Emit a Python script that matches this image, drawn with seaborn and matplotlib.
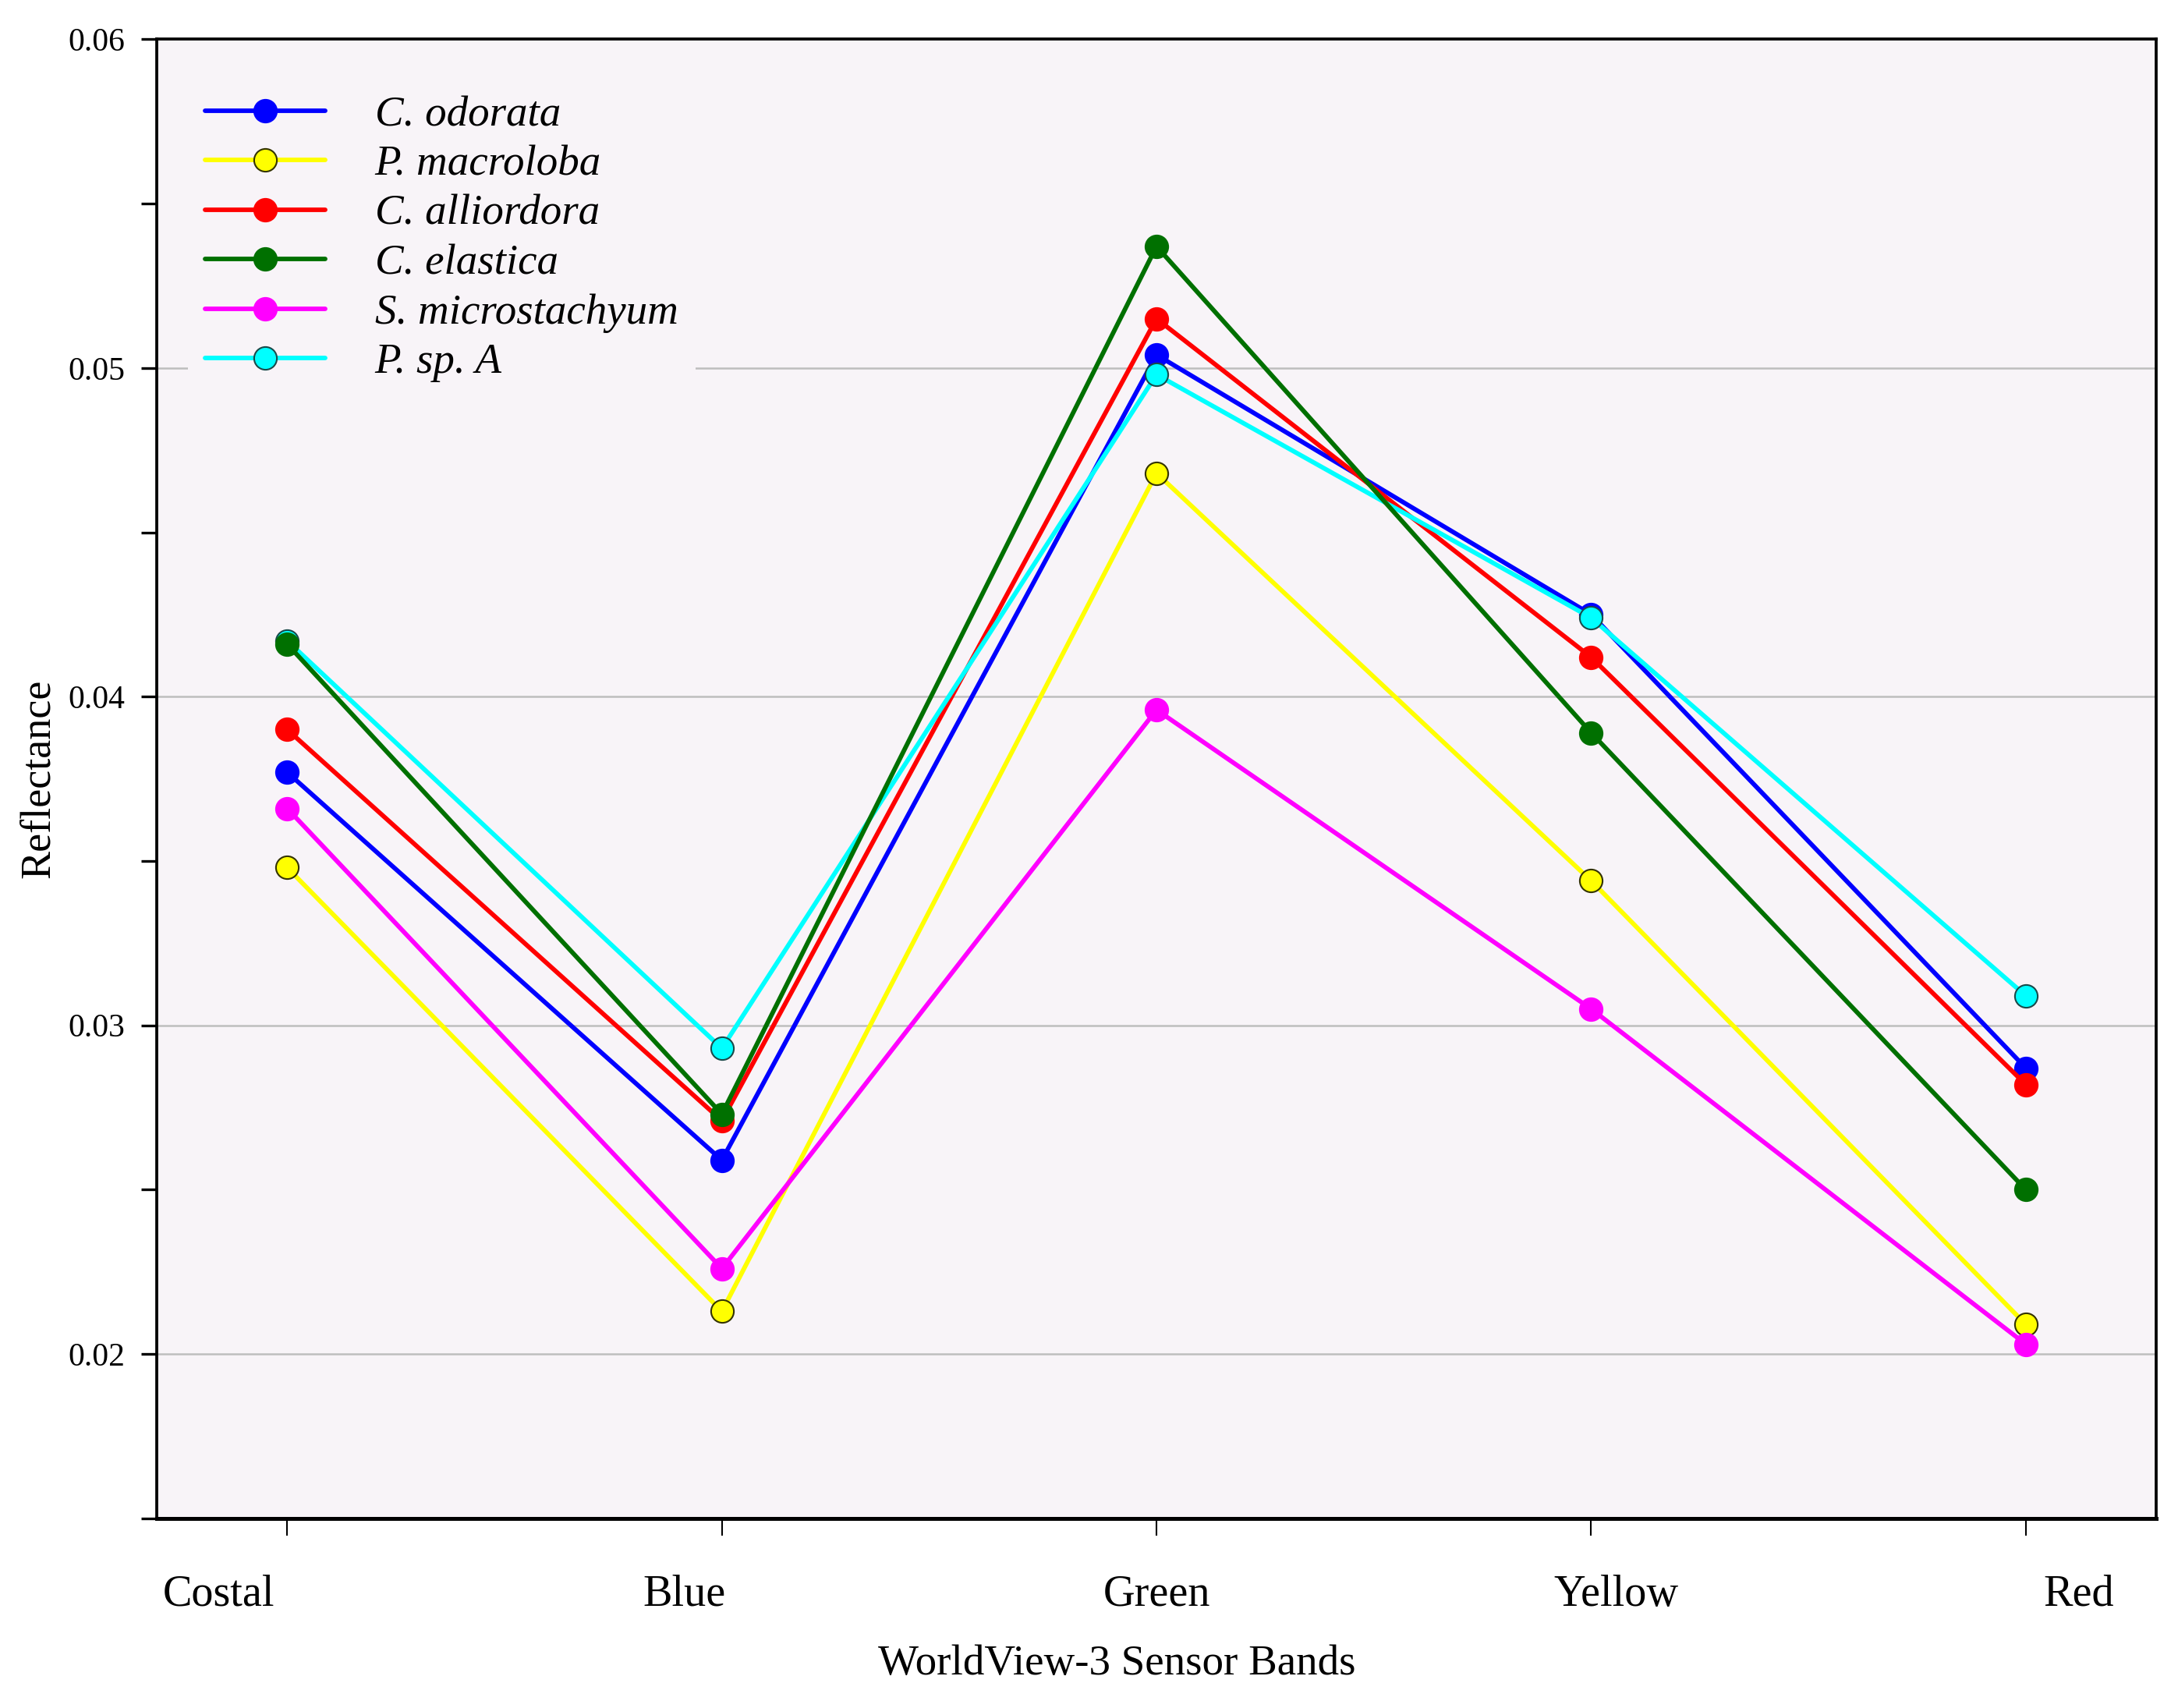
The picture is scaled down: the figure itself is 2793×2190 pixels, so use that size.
import numpy as np
import pandas as pd
import seaborn as sns
import matplotlib
matplotlib.use("Agg")
import matplotlib.pyplot as plt
import matplotlib.transforms as mtransforms
from matplotlib.ticker import MultipleLocator

bands = ["Costal", "Blue", "Green", "Yellow", "Red"]
species = ["C. odorata", "P. macroloba", "C. alliordora", "C. elastica",
           "S. microstachyum", "P. sp. A"]
c_odorata = [0.0377, 0.0259, 0.0504, 0.0425, 0.0287]
p_macroloba = [0.0348, 0.0213, 0.0468, 0.0344, 0.0209]
c_alliordora = [0.0390, 0.0271, 0.0515, 0.0412, 0.0282]
c_elastica = [0.0416, 0.0273, 0.0537, 0.0389, 0.0250]
s_microstachyum = [0.0366, 0.0226, 0.0396, 0.0305, 0.0203]
p_sp_a = [0.0417, 0.0293, 0.0498, 0.0424, 0.0309]

series = [c_odorata, p_macroloba, c_alliordora, c_elastica, s_microstachyum, p_sp_a]
colors = ["#0000FF", "#FFFF00", "#FF0000", "#007000", "#FF00FF", "#00FFFF"]
edges = ["#0000FF", "#333300", "#FF0000", "#007000", "#FF00FF", "#1a4a4a"]

rows = []
for name, vals in zip(species, series):
    for i, (b, v) in enumerate(zip(bands, vals)):
        rows.append({"species": name, "band": b, "idx": i, "value": v})
df = pd.DataFrame(rows)

sns.set_style("ticks")
plt.rcParams["font.family"] = ["Liberation Serif", "DejaVu Serif"]
plt.rcParams["text.color"] = "black"
plt.rcParams["axes.labelcolor"] = "black"
plt.rcParams["xtick.color"] = "black"
plt.rcParams["ytick.color"] = "black"

fig = plt.figure(figsize=(2793 / 300, 2190 / 300), dpi=300)
ax = fig.add_axes([0.072, 0.111, 0.918, 0.866])
ax.set_facecolor("#F8F4F8")

draw_order = [0, 1, 2, 4, 5, 3]
for k in draw_order:
    name = species[k]
    sub = df[df["species"] == name]
    sns.lineplot(data=sub, x="idx", y="value", color=colors[k], marker="o",
                 markersize=7, markeredgecolor=edges[k], markeredgewidth=0.5,
                 linewidth=1.4, ax=ax, label=name, sort=False, zorder=3)

ax.set_xlim(-0.3, 4.3)
ax.set_ylim(0.015, 0.06)
ax.yaxis.set_minor_locator(MultipleLocator(0.005))
ax.set_yticks([0.02, 0.03, 0.04, 0.05, 0.06])
ax.set_xticks(range(len(bands)))
ax.set_xticklabels(bands)

ax.yaxis.grid(True, which="major", color="#BEBEBE", linewidth=0.6, zorder=0)
ax.set_axisbelow(True)

ax.tick_params(axis="y", which="both", direction="out", length=4.8, width=0.8,
               labelsize=10, pad=5, colors="black")
ax.tick_params(axis="x", which="major", direction="out", length=5.3, width=0.5,
               labelsize=13.5, pad=12, colors="black")
for sp in ax.spines.values():
    sp.set_visible(True)
    sp.set_color("black")
    sp.set_linewidth(0.9)
ax.spines["bottom"].set_linewidth(1.2)

offsets_pt = [-21, -11.5, 0, 7.7, 16.3]
for lab, dx in zip(ax.get_xticklabels(), offsets_pt):
    lab.set_transform(lab.get_transform() + mtransforms.ScaledTranslation(dx / 72, 0, fig.dpi_scale_trans))

ax.set_xlabel("WorldView-3 Sensor Bands", fontsize=13.2)
ax.xaxis.set_label_coords(0.48, -0.085)
ax.set_ylabel("Reflectance", fontsize=13, labelpad=3)

h, l = ax.get_legend_handles_labels()
order = [l.index(s) for s in species]
leg = ax.legend([h[i] for i in order], [l[i] for i in order],
                loc="upper left", bbox_to_anchor=(0.005, 0.988),
                frameon=True, fancybox=False, facecolor="#F8F4F8",
                edgecolor="none", framealpha=1.0, fontsize=13.2,
                labelspacing=0.235, handlelength=2.8, handletextpad=1.15,
                borderpad=0.4)
for t in leg.get_texts():
    t.set_fontstyle("italic")

fig.savefig("out.png", dpi=300, facecolor="white")
